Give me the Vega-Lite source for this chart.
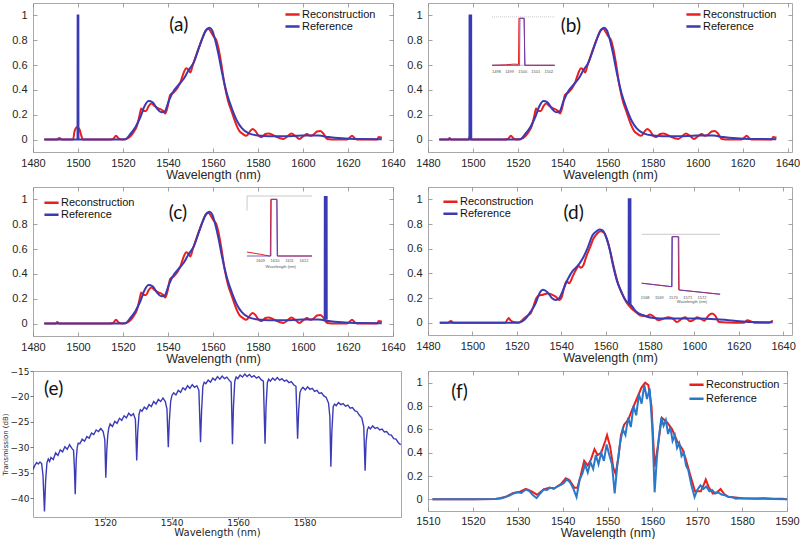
{
"$schema": "https://vega.github.io/schema/vega-lite/v6.json",
"background": "white",
"padding": {"left": 0, "top": 2, "right": 0, "bottom": 0},
"config": {
 "view": {"stroke": "#a8a8a8", "strokeWidth": 1},
 "axis": {"domain": false, "grid": false, "ticks": true, "tickSize": -4, "tickColor": "#8c8c8c", "tickWidth": 0.8, "labelFont": "Liberation Sans", "labelFontSize": 11, "labelColor": "#262626", "labelPadding": 9, "labelFlush": false, "labelOverlap": false, "titleFont": "Liberation Sans", "titleFontSize": 12.5, "titleFontWeight": "normal", "titleColor": "#262626", "titlePadding": 0},
 "axisY": {"labelPadding": 10},
 "legend": {"labelFont": "Liberation Sans", "labelFontSize": 11, "labelColor": "#111111", "symbolType": "stroke", "symbolStrokeWidth": 2.5, "symbolSize": 200, "labelOffset": 1, "padding": 0, "rowPadding": 0, "clipHeight": 12}
},
"datasets": {
 "lbl": [
  {"p":"a","x":1544.8,"y":0.923,"t":"(a)"},
  {"p":"b","x":1543.6,"y":0.915,"t":"(b)"},
  {"p":"c","x":1544.4,"y":0.887,"t":"(c)"},
  {"p":"d","x":1545.6,"y":0.892,"t":"(d)"},
  {"p":"e","x":1504.5,"y":-18.6,"t":"(e)"},
  {"p":"f","x":1517,"y":0.92,"t":"(f)"}
 ],
 "refA": [
  {"x":1485,"y":0},{"x":1500,"y":0},{"x":1515,"y":0},{"x":1521,"y":0.002},{"x":1523.3,"y":0.046},{"x":1525.5,"y":0.1},{"x":1527.7,"y":0.18},{"x":1529.6,"y":0.27},{"x":1531.4,"y":0.31},{"x":1533.2,"y":0.3},{"x":1535.1,"y":0.25},{"x":1537,"y":0.22},{"x":1538.5,"y":0.226},{"x":1540.3,"y":0.31},{"x":1542.1,"y":0.38},{"x":1544.7,"y":0.44},{"x":1547,"y":0.49},{"x":1549.2,"y":0.56},{"x":1551.4,"y":0.62},{"x":1553.6,"y":0.73},{"x":1555.6,"y":0.83},{"x":1557.3,"y":0.89},{"x":1558.4,"y":0.9},{"x":1559.6,"y":0.88},{"x":1561,"y":0.8},{"x":1562.5,"y":0.68},{"x":1564,"y":0.54},{"x":1566.2,"y":0.37},{"x":1568.4,"y":0.25},{"x":1570.7,"y":0.15},{"x":1572.9,"y":0.09},{"x":1575.9,"y":0.05},{"x":1580.3,"y":0.032},{"x":1584.7,"y":0.027},{"x":1592,"y":0.027},{"x":1599.6,"y":0.032},{"x":1607,"y":0.032},{"x":1611.4,"y":0.02},{"x":1617.3,"y":0.01},{"x":1623.3,"y":0.005},{"x":1635,"y":0.003}
 ],
 "recA": [
  {"x":1485,"y":0},{"x":1490.7,"y":0},{"x":1491.7,"y":0.013},{"x":1492.9,"y":0},{"x":1497.8,"y":0},{"x":1498.5,"y":0.07},{"x":1499.6,"y":0.1},{"x":1500.6,"y":0.085},{"x":1501.5,"y":0.03},{"x":1502.1,"y":0},{"x":1513.6,"y":0},{"x":1515.6,"y":0.005},{"x":1516.9,"y":0.03},{"x":1518,"y":0.01},{"x":1519.6,"y":0},{"x":1521,"y":0.003},{"x":1523.3,"y":0.027},{"x":1524.7,"y":0.06},{"x":1526.2,"y":0.11},{"x":1527.3,"y":0.19},{"x":1528.1,"y":0.25},{"x":1529.2,"y":0.23},{"x":1530.2,"y":0.23},{"x":1531.4,"y":0.27},{"x":1532.6,"y":0.29},{"x":1534.1,"y":0.27},{"x":1535.9,"y":0.25},{"x":1537.6,"y":0.234},{"x":1538.8,"y":0.21},{"x":1539.9,"y":0.27},{"x":1541,"y":0.36},{"x":1542.5,"y":0.38},{"x":1544,"y":0.41},{"x":1545.5,"y":0.46},{"x":1547,"y":0.54},{"x":1548.1,"y":0.575},{"x":1549.2,"y":0.56},{"x":1549.9,"y":0.54},{"x":1551,"y":0.6},{"x":1552.9,"y":0.7},{"x":1555.1,"y":0.81},{"x":1556.9,"y":0.88},{"x":1558.1,"y":0.89},{"x":1559.3,"y":0.86},{"x":1560.3,"y":0.83},{"x":1561.5,"y":0.8},{"x":1562.5,"y":0.73},{"x":1563.7,"y":0.61},{"x":1565.2,"y":0.435},{"x":1566.7,"y":0.31},{"x":1568.4,"y":0.22},{"x":1569.9,"y":0.14},{"x":1571.7,"y":0.07},{"x":1573.2,"y":0.046},{"x":1574.8,"y":0.03},{"x":1576.6,"y":0.07},{"x":1577.6,"y":0.086},{"x":1578.8,"y":0.07},{"x":1580.3,"y":0.03},{"x":1581.5,"y":0.02},{"x":1583.3,"y":0.045},{"x":1584.7,"y":0.05},{"x":1586.5,"y":0.038},{"x":1588.4,"y":0.02},{"x":1591.4,"y":0.005},{"x":1593.3,"y":0.03},{"x":1594.8,"y":0.05},{"x":1596.6,"y":0.03},{"x":1598.4,"y":0.005},{"x":1600.3,"y":0.03},{"x":1601.8,"y":0.045},{"x":1603.3,"y":0.03},{"x":1604.7,"y":0.04},{"x":1606.2,"y":0.065},{"x":1607.7,"y":0.07},{"x":1609.2,"y":0.045},{"x":1610.7,"y":0.005},{"x":1614.4,"y":0},{"x":1619.6,"y":0},{"x":1621,"y":0.02},{"x":1621.8,"y":0.03},{"x":1623,"y":0.01},{"x":1624,"y":0},{"x":1632.9,"y":0},{"x":1633.6,"y":0.02},{"x":1635.1,"y":0.015}
 ],
 "lowB": [{"x":1485,"y":0},{"x":1489,"y":0},{"x":1489.6,"y":0.012},{"x":1490.3,"y":0},{"x":1498,"y":0},{"x":1498.5,"y":0.02},{"x":1498.9,"y":0.03},{"x":1499.2,"y":0},{"x":1513.6,"y":0}],
 "lowC": [{"x":1485,"y":0},{"x":1490,"y":0},{"x":1490.8,"y":0.012},{"x":1491.6,"y":0},{"x":1513.6,"y":0}],
 "spikeA": [{"x":1499.8,"y":0},{"x":1499.85,"y":1},{"x":1500.15,"y":1},{"x":1500.2,"y":0}],
 "spikeB": [{"x":1498.45,"y":0},{"x":1498.5,"y":1},{"x":1499.2,"y":1},{"x":1499.25,"y":0}],
 "spikeC": [{"x":1609.65,"y":0.03},{"x":1609.7,"y":1.02},{"x":1610.5,"y":1.02},{"x":1610.55,"y":0.03}],
 "spikeD": [{"x":1570.4,"y":0.16},{"x":1570.45,"y":1},{"x":1571.2,"y":1},{"x":1571.25,"y":0.14}],
 "refD": [
  {"x":1485.3,"y":0},{"x":1500,"y":0},{"x":1515,"y":0},{"x":1521,"y":0.002},{"x":1524,"y":0.033},{"x":1526.2,"y":0.088},{"x":1528.5,"y":0.157},{"x":1530.3,"y":0.24},{"x":1531.8,"y":0.266},{"x":1533.8,"y":0.247},{"x":1535.8,"y":0.2},{"x":1537.6,"y":0.184},{"x":1539.1,"y":0.198},{"x":1540.9,"y":0.266},{"x":1542.9,"y":0.35},{"x":1545.2,"y":0.42},{"x":1547.4,"y":0.46},{"x":1549.7,"y":0.52},{"x":1552,"y":0.61},{"x":1554.2,"y":0.71},{"x":1555.8,"y":0.74},{"x":1557.3,"y":0.755},{"x":1558.8,"y":0.747},{"x":1560.3,"y":0.69},{"x":1561.8,"y":0.6},{"x":1563.3,"y":0.47},{"x":1565.2,"y":0.335},{"x":1567.1,"y":0.25},{"x":1569.1,"y":0.18},{"x":1571.7,"y":0.137},{"x":1573.9,"y":0.088},{"x":1577,"y":0.06},{"x":1581.5,"y":0.038},{"x":1587.6,"y":0.033},{"x":1595.2,"y":0.033},{"x":1602.7,"y":0.033},{"x":1610.3,"y":0.027},{"x":1617.9,"y":0.016},{"x":1625.5,"y":0.005},{"x":1635.3,"y":0.003}
 ],
 "recD": [
  {"x":1485.3,"y":0},{"x":1489,"y":0},{"x":1490.3,"y":0.014},{"x":1491.4,"y":0},{"x":1514.8,"y":0},{"x":1516.4,"y":0.038},{"x":1517.1,"y":0.02},{"x":1518.6,"y":0.005},{"x":1520.9,"y":0},{"x":1523.2,"y":0.033},{"x":1524.7,"y":0.055},{"x":1526.2,"y":0.074},{"x":1527.7,"y":0.143},{"x":1528.8,"y":0.198},{"x":1530,"y":0.22},{"x":1531.5,"y":0.225},{"x":1533.8,"y":0.236},{"x":1536.1,"y":0.225},{"x":1537.6,"y":0.21},{"x":1539.1,"y":0.184},{"x":1540.3,"y":0.21},{"x":1541.4,"y":0.29},{"x":1542.4,"y":0.335},{"x":1543.6,"y":0.32},{"x":1545.2,"y":0.376},{"x":1546.7,"y":0.43},{"x":1547.9,"y":0.46},{"x":1548.9,"y":0.445},{"x":1550,"y":0.465},{"x":1551.2,"y":0.53},{"x":1553,"y":0.61},{"x":1554.5,"y":0.68},{"x":1556.1,"y":0.72},{"x":1557.6,"y":0.742},{"x":1559.1,"y":0.733},{"x":1560.6,"y":0.68},{"x":1562.1,"y":0.58},{"x":1563.6,"y":0.46},{"x":1565.6,"y":0.32},{"x":1567.6,"y":0.23},{"x":1569.4,"y":0.165},{"x":1571.7,"y":0.115},{"x":1573.9,"y":0.082},{"x":1576.2,"y":0.055},{"x":1578.5,"y":0.052},{"x":1580,"y":0.066},{"x":1581.8,"y":0.047},{"x":1583.8,"y":0.019},{"x":1586.1,"y":0.033},{"x":1588.3,"y":0.044},{"x":1590.3,"y":0.033},{"x":1592.1,"y":0.005},{"x":1594.4,"y":0.033},{"x":1595.9,"y":0.044},{"x":1597.9,"y":0.011},{"x":1599.7,"y":0.022},{"x":1601.2,"y":0.044},{"x":1602.7,"y":0.033},{"x":1604.5,"y":0.016},{"x":1606.5,"y":0.06},{"x":1608,"y":0.074},{"x":1609.5,"y":0.055},{"x":1611.1,"y":0.005},{"x":1617.9,"y":0},{"x":1622.4,"y":0},{"x":1623.9,"y":0.019},{"x":1625.5,"y":0.01},{"x":1627,"y":0},{"x":1633.8,"y":0},{"x":1635.3,"y":0.019}
 ],
 "insB": [
  {"s":"top","x":1497.66,"y":1.03},{"s":"top","x":1502.44,"y":1.03},
  {"s":"ax","x":1497.66,"y":0},{"s":"ax","x":1502.44,"y":0},
  {"s":"rec","x":1497.66,"y":0},{"s":"rec","x":1498.7,"y":0.01},{"s":"rec","x":1499.3,"y":0.025},{"s":"rec","x":1499.68,"y":0.02},{"s":"rec","x":1499.71,"y":1},{"s":"rec","x":1500.1,"y":1},{"s":"rec","x":1500.18,"y":0},{"s":"rec","x":1502.44,"y":0},
  {"s":"ref","x":1497.66,"y":0},{"s":"ref","x":1499.76,"y":0},{"s":"ref","x":1499.79,"y":1},{"s":"ref","x":1500.12,"y":1},{"s":"ref","x":1500.15,"y":0},{"s":"ref","x":1502.44,"y":0},
  {"s":"lbl","x":1498,"y":-0.14,"t":"1498"},{"s":"lbl","x":1499,"y":-0.14,"t":"1499"},{"s":"lbl","x":1500,"y":-0.14,"t":"1500"},{"s":"lbl","x":1501,"y":-0.14,"t":"1501"},{"s":"lbl","x":1502,"y":-0.14,"t":"1502"}
 ],
 "insC": [
  {"s":"top","x":1608.07,"y":1.058},{"s":"top","x":1612.55,"y":1.058},
  {"s":"side","x":1608.07,"y":0.8},{"s":"side","x":1608.08,"y":1.058},
  {"s":"rec","x":1608.07,"y":0.07},{"s":"rec","x":1609,"y":0.03},{"s":"rec","x":1609.6,"y":0.0},{"s":"rec","x":1609.68,"y":0.0},{"s":"rec","x":1609.71,"y":1.0},{"s":"rec","x":1610.14,"y":1.0},{"s":"rec","x":1610.18,"y":0},{"s":"rec","x":1612.55,"y":0},
  {"s":"ref","x":1608.07,"y":0},{"s":"ref","x":1609.72,"y":0},{"s":"ref","x":1609.75,"y":1},{"s":"ref","x":1610.12,"y":1},{"s":"ref","x":1610.15,"y":0},{"s":"ref","x":1612.55,"y":0},
  {"s":"lbl","x":1609,"y":-0.08,"t":"1609"},{"s":"lbl","x":1610,"y":-0.08,"t":"1610"},{"s":"lbl","x":1611,"y":-0.08,"t":"1611"},{"s":"lbl","x":1612,"y":-0.08,"t":"1612"},
  {"s":"lbl","x":1610.4,"y":-0.19,"t":"Wavelength (nm)"}
 ],
 "insD": [
  {"s":"top","x":1567.76,"y":1.044},{"s":"top","x":1573.28,"y":1.044},
  {"s":"rec","x":1567.76,"y":0.145},{"s":"rec","x":1569.86,"y":0.08},{"s":"rec","x":1569.88,"y":1},{"s":"rec","x":1570.33,"y":1},{"s":"rec","x":1570.36,"y":0.02},{"s":"rec","x":1573.28,"y":-0.058},
  {"s":"ref","x":1567.76,"y":0.142},{"s":"ref","x":1569.9,"y":0.079},{"s":"ref","x":1569.93,"y":1},{"s":"ref","x":1570.37,"y":1},{"s":"ref","x":1570.4,"y":0.018},{"s":"ref","x":1573.28,"y":-0.061},
  {"s":"lbl","x":1568,"y":-0.123,"t":"1568"},{"s":"lbl","x":1569,"y":-0.123,"t":"1569"},{"s":"lbl","x":1570,"y":-0.123,"t":"1570"},{"s":"lbl","x":1571,"y":-0.123,"t":"1571"},{"s":"lbl","x":1572,"y":-0.123,"t":"1572"},
  {"s":"lbl","x":1571.3,"y":-0.203,"t":"Wavelength (nm)"}
 ],
 "trans": [
  {"x":1498.0,"y":-33.4},{"x":1498.4,"y":-34.2},{"x":1498.9,"y":-33.5},{"x":1499.4,"y":-33.0},{"x":1499.9,"y":-33.3},{"x":1500.4,"y":-32.9},{"x":1500.9,"y":-33.2},{"x":1501.3,"y":-35.5},{"x":1501.75,"y":-42.6},{"x":1502.1,"y":-36.5},{"x":1502.5,"y":-33.0},{"x":1502.9,"y":-32.3},{"x":1503.3,"y":-32.8},{"x":1503.7,"y":-32.0},{"x":1504.4,"y":-32.4},{"x":1505.1,"y":-31.1},{"x":1505.8,"y":-31.6},{"x":1506.5,"y":-30.5},{"x":1507.2,"y":-30.9},{"x":1507.9,"y":-29.9},{"x":1508.6,"y":-30.4},{"x":1509.3,"y":-29.5},{"x":1510.0,"y":-30.2},{"x":1510.5,"y":-30.6},{"x":1510.75,"y":-34.0},{"x":1511.0,"y":-39.2},{"x":1511.3,"y":-32.5},{"x":1511.6,"y":-30.0},{"x":1511.9,"y":-29.2},{"x":1512.4,"y":-29.3},{"x":1513.1,"y":-28.4},{"x":1513.8,"y":-28.8},{"x":1514.5,"y":-27.9},{"x":1515.2,"y":-28.2},{"x":1515.9,"y":-27.2},{"x":1516.6,"y":-27.5},{"x":1517.3,"y":-26.6},{"x":1518.0,"y":-26.9},{"x":1518.7,"y":-26.3},{"x":1519.4,"y":-26.9},{"x":1519.9,"y":-28.5},{"x":1520.2,"y":-36.0},{"x":1520.5,"y":-30.5},{"x":1520.8,"y":-27.5},{"x":1521.1,"y":-26.2},{"x":1521.5,"y":-25.4},{"x":1522.2,"y":-25.9},{"x":1522.9,"y":-24.9},{"x":1523.6,"y":-25.3},{"x":1524.3,"y":-24.3},{"x":1525.0,"y":-24.7},{"x":1525.7,"y":-23.8},{"x":1526.4,"y":-24.2},{"x":1527.1,"y":-23.3},{"x":1527.8,"y":-23.8},{"x":1528.5,"y":-23.4},{"x":1529.1,"y":-24.5},{"x":1529.5,"y":-32.6},{"x":1529.8,"y":-27.0},{"x":1530.2,"y":-23.5},{"x":1530.6,"y":-22.6},{"x":1531.1,"y":-22.9},{"x":1531.8,"y":-22.1},{"x":1532.5,"y":-22.5},{"x":1533.2,"y":-21.6},{"x":1533.9,"y":-22.0},{"x":1534.6,"y":-21.0},{"x":1535.3,"y":-21.5},{"x":1536.0,"y":-20.6},{"x":1536.7,"y":-21.0},{"x":1537.4,"y":-20.3},{"x":1538.1,"y":-21.0},{"x":1538.6,"y":-22.5},{"x":1539.0,"y":-30.0},{"x":1539.3,"y":-25.0},{"x":1539.7,"y":-21.0},{"x":1540.1,"y":-19.8},{"x":1540.6,"y":-19.3},{"x":1541.3,"y":-19.7},{"x":1542.0,"y":-18.8},{"x":1542.7,"y":-19.2},{"x":1543.4,"y":-18.3},{"x":1544.1,"y":-18.7},{"x":1544.8,"y":-17.9},{"x":1545.5,"y":-18.4},{"x":1546.2,"y":-17.7},{"x":1546.9,"y":-18.2},{"x":1547.6,"y":-17.9},{"x":1548.2,"y":-18.8},{"x":1548.7,"y":-29.0},{"x":1549.0,"y":-23.0},{"x":1549.4,"y":-18.0},{"x":1549.8,"y":-17.2},{"x":1550.3,"y":-17.5},{"x":1551.0,"y":-16.8},{"x":1551.7,"y":-17.2},{"x":1552.4,"y":-16.4},{"x":1553.1,"y":-16.8},{"x":1553.8,"y":-16.1},{"x":1554.5,"y":-16.6},{"x":1555.2,"y":-16.0},{"x":1555.9,"y":-16.5},{"x":1556.6,"y":-16.2},{"x":1557.3,"y":-16.8},{"x":1557.9,"y":-17.2},{"x":1558.3,"y":-29.4},{"x":1558.6,"y":-22.0},{"x":1559.0,"y":-17.0},{"x":1559.4,"y":-16.2},{"x":1559.9,"y":-16.5},{"x":1560.6,"y":-15.8},{"x":1561.3,"y":-16.2},{"x":1562.0,"y":-15.6},{"x":1562.7,"y":-16.1},{"x":1563.4,"y":-15.7},{"x":1564.1,"y":-16.2},{"x":1564.8,"y":-15.9},{"x":1565.5,"y":-16.4},{"x":1566.2,"y":-16.1},{"x":1566.9,"y":-16.7},{"x":1567.6,"y":-17.0},{"x":1568.1,"y":-29.3},{"x":1568.4,"y":-22.0},{"x":1568.8,"y":-17.3},{"x":1569.2,"y":-16.6},{"x":1569.7,"y":-17.0},{"x":1570.4,"y":-16.4},{"x":1571.1,"y":-16.8},{"x":1571.8,"y":-16.3},{"x":1572.5,"y":-16.8},{"x":1573.2,"y":-16.5},{"x":1573.9,"y":-17.0},{"x":1574.6,"y":-16.8},{"x":1575.3,"y":-17.3},{"x":1576.0,"y":-17.1},{"x":1576.7,"y":-17.7},{"x":1577.4,"y":-18.0},{"x":1577.9,"y":-28.3},{"x":1578.2,"y":-23.0},{"x":1578.6,"y":-19.2},{"x":1579.0,"y":-18.6},{"x":1579.5,"y":-18.2},{"x":1580.2,"y":-18.7},{"x":1580.9,"y":-18.1},{"x":1581.6,"y":-18.6},{"x":1582.3,"y":-18.4},{"x":1583.0,"y":-19.0},{"x":1583.7,"y":-18.8},{"x":1584.4,"y":-19.4},{"x":1585.1,"y":-19.3},{"x":1585.8,"y":-19.9},{"x":1586.5,"y":-20.2},{"x":1587.2,"y":-21.3},{"x":1587.6,"y":-24.0},{"x":1587.9,"y":-33.8},{"x":1588.2,"y":-27.0},{"x":1588.6,"y":-22.0},{"x":1589.0,"y":-21.5},{"x":1589.5,"y":-21.8},{"x":1590.2,"y":-21.2},{"x":1590.9,"y":-21.6},{"x":1591.6,"y":-21.4},{"x":1592.3,"y":-21.9},{"x":1593.0,"y":-21.7},{"x":1593.7,"y":-22.3},{"x":1594.4,"y":-22.2},{"x":1595.1,"y":-22.8},{"x":1595.8,"y":-23.0},{"x":1596.5,"y":-23.7},{"x":1597.2,"y":-24.2},{"x":1597.8,"y":-26.0},{"x":1598.2,"y":-34.6},{"x":1598.5,"y":-29.0},{"x":1598.9,"y":-26.5},{"x":1599.3,"y":-26.0},{"x":1599.8,"y":-26.4},{"x":1600.5,"y":-25.8},{"x":1601.2,"y":-26.3},{"x":1601.9,"y":-26.1},{"x":1602.6,"y":-26.6},{"x":1603.3,"y":-26.4},{"x":1604.0,"y":-27.0},{"x":1604.7,"y":-26.9},{"x":1605.4,"y":-27.5},{"x":1606.1,"y":-27.6},{"x":1606.8,"y":-28.3},{"x":1607.5,"y":-28.4},{"x":1608.2,"y":-29.1},{"x":1608.9,"y":-29.5}
 ],
 "fRec": [
  {"x":1511,"y":0},{"x":1520,"y":0},{"x":1525,"y":0.003},{"x":1526,"y":0.01},{"x":1527.5,"y":0.025},{"x":1529,"y":0.055},{"x":1530.5,"y":0.065},{"x":1531.8,"y":0.09},{"x":1533,"y":0.07},{"x":1534.3,"y":0.04},{"x":1535.8,"y":0.085},{"x":1537,"y":0.1},{"x":1538.2,"y":0.095},{"x":1539.6,"y":0.13},{"x":1540.7,"y":0.18},{"x":1541.5,"y":0.165},{"x":1542.6,"y":0.1},{"x":1543.3,"y":0.1},{"x":1544,"y":0.2},{"x":1544.8,"y":0.33},{"x":1545.6,"y":0.29},{"x":1546.3,"y":0.34},{"x":1547.1,"y":0.43},{"x":1547.8,"y":0.38},{"x":1548.6,"y":0.4},{"x":1549.5,"y":0.5},{"x":1549.9,"y":0.55},{"x":1550.6,"y":0.45},{"x":1551.3,"y":0.27},{"x":1551.8,"y":0.22},{"x":1552.4,"y":0.35},{"x":1553,"y":0.55},{"x":1553.7,"y":0.64},{"x":1554.6,"y":0.68},{"x":1555.4,"y":0.76},{"x":1556.5,"y":0.86},{"x":1557.6,"y":0.96},{"x":1558.4,"y":1.0},{"x":1559.1,"y":0.98},{"x":1559.8,"y":0.8},{"x":1560.5,"y":0.28},{"x":1561.2,"y":0.45},{"x":1562.1,"y":0.7},{"x":1563.3,"y":0.66},{"x":1564.4,"y":0.6},{"x":1565.5,"y":0.5},{"x":1566.7,"y":0.43},{"x":1567.4,"y":0.35},{"x":1568.5,"y":0.2},{"x":1569.5,"y":0.07},{"x":1570.8,"y":0.07},{"x":1571.5,"y":0.13},{"x":1571.9,"y":0.17},{"x":1572.6,"y":0.1},{"x":1573.5,"y":0.05},{"x":1574.4,"y":0.06},{"x":1575.2,"y":0.088},{"x":1576,"y":0.045},{"x":1577,"y":0.02},{"x":1578.5,"y":0.015},{"x":1580,"y":0.01},{"x":1583,"y":0.008},{"x":1585,"y":0.01},{"x":1587,"y":0.005},{"x":1589,"y":0.005},{"x":1590,"y":0}
 ],
 "fRef": [
  {"x":1511,"y":0},{"x":1520,"y":0},{"x":1525,"y":0.003},{"x":1526.5,"y":0.01},{"x":1528,"y":0.03},{"x":1529,"y":0.05},{"x":1530,"y":0.06},{"x":1530.8,"y":0.055},{"x":1531.8,"y":0.085},{"x":1532.6,"y":0.07},{"x":1533.3,"y":0.04},{"x":1534.2,"y":0.01},{"x":1535,"y":0.05},{"x":1535.8,"y":0.085},{"x":1536.5,"y":0.08},{"x":1537.2,"y":0.1},{"x":1538,"y":0.09},{"x":1538.8,"y":0.11},{"x":1539.6,"y":0.125},{"x":1540.3,"y":0.14},{"x":1540.9,"y":0.17},{"x":1541.6,"y":0.15},{"x":1542.3,"y":0.1},{"x":1543.1,"y":0.02},{"x":1543.8,"y":0.17},{"x":1544.4,"y":0.22},{"x":1545,"y":0.3},{"x":1545.6,"y":0.23},{"x":1546.2,"y":0.32},{"x":1546.8,"y":0.26},{"x":1547.4,"y":0.38},{"x":1548,"y":0.3},{"x":1548.6,"y":0.4},{"x":1549.2,"y":0.33},{"x":1549.8,"y":0.47},{"x":1550.4,"y":0.38},{"x":1551,"y":0.3},{"x":1551.6,"y":0.05},{"x":1552.2,"y":0.3},{"x":1552.8,"y":0.48},{"x":1553.4,"y":0.6},{"x":1554,"y":0.55},{"x":1554.6,"y":0.7},{"x":1555.2,"y":0.62},{"x":1555.8,"y":0.8},{"x":1556.4,"y":0.72},{"x":1557,"y":0.9},{"x":1557.6,"y":0.82},{"x":1558.2,"y":0.98},{"x":1558.8,"y":0.86},{"x":1559.4,"y":0.95},{"x":1560,"y":0.6},{"x":1560.5,"y":0.06},{"x":1561,"y":0.35},{"x":1561.5,"y":0.55},{"x":1562,"y":0.7},{"x":1562.5,"y":0.63},{"x":1563,"y":0.68},{"x":1563.5,"y":0.56},{"x":1564,"y":0.62},{"x":1564.5,"y":0.5},{"x":1565,"y":0.55},{"x":1565.5,"y":0.44},{"x":1566,"y":0.48},{"x":1566.5,"y":0.37},{"x":1567,"y":0.4},{"x":1567.5,"y":0.29},{"x":1568,"y":0.25},{"x":1568.7,"y":0.12},{"x":1569.4,"y":0.02},{"x":1570,"y":0.08},{"x":1570.7,"y":0.12},{"x":1571.4,"y":0.09},{"x":1572,"y":0.11},{"x":1572.7,"y":0.07},{"x":1573.3,"y":0.08},{"x":1574,"y":0.05},{"x":1574.7,"y":0.06},{"x":1575.4,"y":0.04},{"x":1576.2,"y":0.035},{"x":1577,"y":0.02},{"x":1577.8,"y":0.02},{"x":1578.6,"y":0.005},{"x":1579.5,"y":0.01},{"x":1581,"y":0.008},{"x":1583,"y":0.005},{"x":1585,"y":0.005},{"x":1587,"y":0.003},{"x":1590,"y":0}
 ]
},
"columns": 2,
"align": "none",
"bounds": "flush",
"spacing": {"row": 35, "column": 27},
"resolve": {"scale": {"color": "independent"}},
"concat": [
 {
  "width": 360, "height": 149,
  "resolve": {"scale": {"x": "independent", "y": "independent"}},
  "layer": [
   {
    "encoding": {
     "x": {"field": "x", "type": "quantitative", "scale": {"domain": [1480, 1640], "nice": false, "zero": false}, "axis": {"values": [1480,1500,1520,1540,1560,1580,1600,1620,1640], "format": "d", "title": "Wavelength (nm)"}},
     "y": {"field": "y", "type": "quantitative", "scale": {"domain": [-0.1, 1.1], "nice": false, "zero": false}, "axis": {"values": [0,0.2,0.4,0.6,0.8,1], "format": ".1~f", "title": null}}
    },
    "layer": [
     {"data": {"name": "recA"}, "mark": {"type": "line", "strokeWidth": 2, "interpolate": "monotone", "clip": true}, "encoding": {"color": {"datum": "Reconstruction", "scale": {"domain": ["Reconstruction", "Reference"], "range": ["#e8201e", "#3a3ab4"]}, "legend": {"title": null, "orient": "none", "legendX": 251, "legendY": 5.5}}}},
     {"data": {"name": "refA"}, "mark": {"type": "line", "strokeWidth": 2, "interpolate": "monotone", "clip": true}, "encoding": {"color": {"datum": "Reference"}}},
     {"data": {"name": "spikeA"}, "mark": {"type": "line", "strokeWidth": 2, "clip": true}, "encoding": {"color": {"datum": "Reference"}}},
     {"data": {"name": "lbl"}, "transform": [{"filter": "datum.p == 'a'"}], "mark": {"type": "text", "font": "Lato", "fontSize": 19, "color": "#111111"}, "encoding": {"text": {"field": "t"}}}
    ]
   },
   {
    "data": {"name": "lbl"}, "transform": [{"filter": "datum.p == 'a'"}], "mark": {"type": "point", "opacity": 0},
    "encoding": {
     "x": {"field": "x", "type": "quantitative", "scale": {"domain": [1480, 1640], "nice": false, "zero": false}, "axis": {"orient": "top", "values": [1480,1500,1520,1540,1560,1580,1600,1620,1640], "labels": false, "title": null}},
     "y": {"field": "y", "type": "quantitative", "scale": {"domain": [-0.1, 1.1], "nice": false, "zero": false}, "axis": {"orient": "right", "values": [0,0.2,0.4,0.6,0.8,1], "labels": false, "title": null}}
    }
   }
  ]
 },
 {
  "width": 364, "height": 149,
  "resolve": {"scale": {"x": "independent", "y": "independent"}},
  "layer": [
   {
    "encoding": {
     "x": {"field": "x", "type": "quantitative", "scale": {"domain": [1480, 1642], "nice": false, "zero": false}, "axis": {"values": [1480,1500,1520,1540,1560,1580,1600,1620,1640], "format": "d", "title": "Wavelength (nm)"}},
     "y": {"field": "y", "type": "quantitative", "scale": {"domain": [-0.1, 1.1], "nice": false, "zero": false}, "axis": {"values": [0,0.2,0.4,0.6,0.8,1], "format": ".1~f", "title": null}}
    },
    "layer": [
     {"data": {"name": "recA"}, "transform": [{"filter": "datum.x >= 1513"}], "mark": {"type": "line", "strokeWidth": 2, "interpolate": "monotone", "clip": true}, "encoding": {"color": {"datum": "Reconstruction", "scale": {"domain": ["Reconstruction", "Reference"], "range": ["#e8201e", "#3a3ab4"]}, "legend": {"title": null, "orient": "none", "legendX": 257, "legendY": 5.5}}}},
     {"data": {"name": "lowB"}, "mark": {"type": "line", "strokeWidth": 2, "interpolate": "monotone", "clip": true}, "encoding": {"color": {"datum": "Reconstruction"}}},
     {"data": {"name": "refA"}, "mark": {"type": "line", "strokeWidth": 2, "interpolate": "monotone", "clip": true}, "encoding": {"color": {"datum": "Reference"}}},
     {"data": {"name": "spikeB"}, "mark": {"type": "line", "strokeWidth": 2, "clip": true}, "encoding": {"color": {"datum": "Reference"}}},
     {"data": {"name": "lbl"}, "transform": [{"filter": "datum.p == 'b'"}], "mark": {"type": "text", "font": "Lato", "fontSize": 19, "color": "#111111"}, "encoding": {"text": {"field": "t"}}}
    ]
   },
   {
    "data": {"name": "insB"},
    "encoding": {
     "x": {"field": "x", "type": "quantitative", "scale": {"domain": [1492.77, 1520.56], "nice": false, "zero": false}, "axis": null},
     "y": {"field": "y", "type": "quantitative", "scale": {"domain": [-1.845, 1.3255], "nice": false, "zero": false}, "axis": null}
    },
    "layer": [
     {"transform": [{"filter": "datum.s == 'top'"}], "mark": {"type": "line", "color": "#bbbbbb", "strokeWidth": 0.8, "strokeDash": [1, 1]}},
     {"transform": [{"filter": "datum.s == 'ax'"}], "mark": {"type": "line", "color": "#999999", "strokeWidth": 0.6}},
     {"transform": [{"filter": "datum.s == 'rec'"}], "mark": {"type": "line", "color": "#e8201e", "strokeWidth": 1}},
     {"transform": [{"filter": "datum.s == 'ref'"}], "mark": {"type": "line", "color": "#5b3fbf", "strokeWidth": 1, "opacity": 0.85}},
     {"transform": [{"filter": "datum.s == 'lbl'"}], "mark": {"type": "text", "fontSize": 4, "color": "#555555", "font": "Liberation Sans"}, "encoding": {"text": {"field": "t"}}}
    ]
   },
   {
    "data": {"name": "lbl"}, "transform": [{"filter": "datum.p == 'b'"}], "mark": {"type": "point", "opacity": 0},
    "encoding": {
     "x": {"field": "x", "type": "quantitative", "scale": {"domain": [1480, 1642], "nice": false, "zero": false}, "axis": {"orient": "top", "values": [1480,1500,1520,1540,1560,1580,1600,1620,1640], "labels": false, "title": null}},
     "y": {"field": "y", "type": "quantitative", "scale": {"domain": [-0.1, 1.1], "nice": false, "zero": false}, "axis": {"orient": "right", "values": [0,0.2,0.4,0.6,0.8,1], "labels": false, "title": null}}
    }
   }
  ]
 },
 {
  "width": 360, "height": 149,
  "resolve": {"scale": {"x": "independent", "y": "independent"}},
  "layer": [
   {
    "encoding": {
     "x": {"field": "x", "type": "quantitative", "scale": {"domain": [1480, 1640], "nice": false, "zero": false}, "axis": {"values": [1480,1500,1520,1540,1560,1580,1600,1620,1640], "format": "d", "title": "Wavelength (nm)"}},
     "y": {"field": "y", "type": "quantitative", "scale": {"domain": [-0.1, 1.1], "nice": false, "zero": false}, "axis": {"values": [0,0.2,0.4,0.6,0.8,1], "format": ".1~f", "title": null}}
    },
    "layer": [
     {"data": {"name": "recA"}, "transform": [{"filter": "datum.x >= 1513"}], "mark": {"type": "line", "strokeWidth": 2, "interpolate": "monotone", "clip": true}, "encoding": {"color": {"datum": "Reconstruction", "scale": {"domain": ["Reconstruction", "Reference"], "range": ["#e8201e", "#3a3ab4"]}, "legend": {"title": null, "orient": "none", "legendX": 10, "legendY": 9.7}}}},
     {"data": {"name": "lowC"}, "mark": {"type": "line", "strokeWidth": 2, "interpolate": "monotone", "clip": true}, "encoding": {"color": {"datum": "Reconstruction"}}},
     {"data": {"name": "refA"}, "mark": {"type": "line", "strokeWidth": 2, "interpolate": "monotone", "clip": true}, "encoding": {"color": {"datum": "Reference"}}},
     {"data": {"name": "spikeC"}, "mark": {"type": "line", "strokeWidth": 2, "clip": true}, "encoding": {"color": {"datum": "Reference"}}},
     {"data": {"name": "lbl"}, "transform": [{"filter": "datum.p == 'c'"}], "mark": {"type": "text", "font": "Lato", "fontSize": 19, "color": "#111111"}, "encoding": {"text": {"field": "t"}}}
    ]
   },
   {
    "data": {"name": "insC"},
    "encoding": {
     "x": {"field": "x", "type": "quantitative", "scale": {"domain": [1593.31, 1618.14], "nice": false, "zero": false}, "axis": null},
     "y": {"field": "y", "type": "quantitative", "scale": {"domain": [-1.411, 1.217], "nice": false, "zero": false}, "axis": null}
    },
    "layer": [
     {"transform": [{"filter": "datum.s == 'top'"}], "mark": {"type": "line", "color": "#bbbbbb", "strokeWidth": 0.8}},
     {"transform": [{"filter": "datum.s == 'side'"}], "mark": {"type": "line", "color": "#bbbbbb", "strokeWidth": 0.8}},
     {"transform": [{"filter": "datum.s == 'rec'"}], "mark": {"type": "line", "color": "#e8201e", "strokeWidth": 1}},
     {"transform": [{"filter": "datum.s == 'ref'"}], "mark": {"type": "line", "color": "#5b3fbf", "strokeWidth": 1, "opacity": 0.85}},
     {"transform": [{"filter": "datum.s == 'lbl'"}], "mark": {"type": "text", "fontSize": 4, "color": "#555555", "font": "Liberation Sans"}, "encoding": {"text": {"field": "t"}}}
    ]
   },
   {
    "data": {"name": "lbl"}, "transform": [{"filter": "datum.p == 'c'"}], "mark": {"type": "point", "opacity": 0},
    "encoding": {
     "x": {"field": "x", "type": "quantitative", "scale": {"domain": [1480, 1640], "nice": false, "zero": false}, "axis": {"orient": "top", "values": [1480,1500,1520,1540,1560,1580,1600,1620,1640], "labels": false, "title": null}},
     "y": {"field": "y", "type": "quantitative", "scale": {"domain": [-0.1, 1.1], "nice": false, "zero": false}, "axis": {"orient": "right", "values": [0,0.2,0.4,0.6,0.8,1], "labels": false, "title": null}}
    }
   }
  ]
 },
 {
  "width": 364, "height": 148,
  "resolve": {"scale": {"x": "independent", "y": "independent"}},
  "layer": [
   {
    "encoding": {
     "x": {"field": "x", "type": "quantitative", "scale": {"domain": [1480, 1644], "nice": false, "zero": false}, "axis": {"values": [1480,1500,1520,1540,1560,1580,1600,1620,1640], "format": "d", "title": "Wavelength (nm)"}},
     "y": {"field": "y", "type": "quantitative", "scale": {"domain": [-0.1, 1.1], "nice": false, "zero": false}, "axis": {"values": [0,0.2,0.4,0.6,0.8,1], "format": ".1~f", "title": null}}
    },
    "layer": [
     {"data": {"name": "recD"}, "mark": {"type": "line", "strokeWidth": 2, "interpolate": "monotone", "clip": true}, "encoding": {"color": {"datum": "Reconstruction", "scale": {"domain": ["Reconstruction", "Reference"], "range": ["#e8201e", "#3a3ab4"]}, "legend": {"title": null, "orient": "none", "legendX": 14, "legendY": 8.7}}}},
     {"data": {"name": "refD"}, "mark": {"type": "line", "strokeWidth": 2, "interpolate": "monotone", "clip": true}, "encoding": {"color": {"datum": "Reference"}}},
     {"data": {"name": "spikeD"}, "mark": {"type": "line", "strokeWidth": 2, "clip": true}, "encoding": {"color": {"datum": "Reference"}}},
     {"data": {"name": "lbl"}, "transform": [{"filter": "datum.p == 'd'"}], "mark": {"type": "text", "font": "Lato", "fontSize": 19, "color": "#111111"}, "encoding": {"text": {"field": "t"}}}
    ]
   },
   {
    "data": {"name": "insD"},
    "encoding": {
     "x": {"field": "x", "type": "quantitative", "scale": {"domain": [1552.71, 1578.34], "nice": false, "zero": false}, "axis": null},
     "y": {"field": "y", "type": "quantitative", "scale": {"domain": [-0.81, 1.915], "nice": false, "zero": false}, "axis": null}
    },
    "layer": [
     {"transform": [{"filter": "datum.s == 'top'"}], "mark": {"type": "line", "color": "#bbbbbb", "strokeWidth": 0.8}},
     {"transform": [{"filter": "datum.s == 'rec'"}], "mark": {"type": "line", "color": "#e8201e", "strokeWidth": 1}},
     {"transform": [{"filter": "datum.s == 'ref'"}], "mark": {"type": "line", "color": "#5b3fbf", "strokeWidth": 1, "opacity": 0.85}},
     {"transform": [{"filter": "datum.s == 'lbl'"}], "mark": {"type": "text", "fontSize": 4, "color": "#555555", "font": "Liberation Sans"}, "encoding": {"text": {"field": "t"}}}
    ]
   },
   {
    "data": {"name": "lbl"}, "transform": [{"filter": "datum.p == 'd'"}], "mark": {"type": "point", "opacity": 0},
    "encoding": {
     "x": {"field": "x", "type": "quantitative", "scale": {"domain": [1480, 1644], "nice": false, "zero": false}, "axis": {"orient": "top", "values": [1480,1500,1520,1540,1560,1580,1600,1620,1640], "labels": false, "title": null}},
     "y": {"field": "y", "type": "quantitative", "scale": {"domain": [-0.1, 1.1], "nice": false, "zero": false}, "axis": {"orient": "right", "values": [0,0.2,0.4,0.6,0.8,1], "labels": false, "title": null}}
    }
   }
  ]
 },
 {
  "width": 368, "height": 146,
  "encoding": {
   "x": {"field": "x", "type": "quantitative", "scale": {"domain": [1498.3, 1609], "nice": false, "zero": false}, "axis": {"values": [1520, 1540, 1560, 1580], "format": "d", "title": "Wavelength (nm)", "tickSize": 2, "labelPadding": -1, "labelFont": "DejaVu Sans", "labelFontSize": 9, "titleFont": "DejaVu Sans", "titleFontSize": 10, "titlePadding": 0, "tickColor": "#555555"}},
   "y": {"field": "y", "type": "quantitative", "scale": {"domain": [-43.7, -15], "nice": false, "zero": false}, "axis": {"values": [-40, -35, -30, -25, -20, -15], "format": "d", "title": "Transmission (dB)", "tickSize": 3, "labelPadding": 1, "labelFont": "DejaVu Sans", "labelFontSize": 9, "titleFont": "DejaVu Sans", "titleFontSize": 7, "titlePadding": 2, "tickColor": "#555555"}}
  },
  "layer": [
   {"data": {"name": "trans"}, "mark": {"type": "line", "color": "#3b3bb8", "strokeWidth": 1.4, "clip": true}},
   {"data": {"name": "lbl"}, "transform": [{"filter": "datum.p == 'e'"}], "mark": {"type": "text", "font": "Lato", "fontSize": 19, "color": "#111111"}, "encoding": {"text": {"field": "t"}}}
  ]
 },
 {
  "width": 359, "height": 140,
  "resolve": {"scale": {"x": "independent", "y": "independent"}},
  "layer": [
   {
    "encoding": {
     "x": {"field": "x", "type": "quantitative", "scale": {"domain": [1510, 1590], "nice": false, "zero": false}, "axis": {"values": [1510,1520,1530,1540,1550,1560,1570,1580,1590], "format": "d", "title": "Wavelength (nm)", "labelPadding": 8, "titlePadding": 0}},
     "y": {"field": "y", "type": "quantitative", "scale": {"domain": [-0.1, 1.1], "nice": false, "zero": false}, "axis": {"values": [0,0.2,0.4,0.6,0.8,1], "format": ".1~f", "title": null}}
    },
    "layer": [
     {"data": {"name": "fRec"}, "mark": {"type": "line", "strokeWidth": 2, "clip": true}, "encoding": {"color": {"datum": "Reconstruction", "scale": {"domain": ["Reconstruction", "Reference"], "range": ["#e8201e", "#2a78c8"]}, "legend": {"title": null, "orient": "none", "legendX": 260, "legendY": 6.7, "clipHeight": 14}}}},
     {"data": {"name": "fRef"}, "mark": {"type": "line", "strokeWidth": 2, "clip": true}, "encoding": {"color": {"datum": "Reference"}}},
     {"data": {"name": "lbl"}, "transform": [{"filter": "datum.p == 'f'"}], "mark": {"type": "text", "font": "Lato", "fontSize": 19, "color": "#111111"}, "encoding": {"text": {"field": "t"}}}
    ]
   },
   {
    "data": {"name": "lbl"}, "transform": [{"filter": "datum.p == 'f'"}], "mark": {"type": "point", "opacity": 0},
    "encoding": {
     "x": {"field": "x", "type": "quantitative", "scale": {"domain": [1510, 1590], "nice": false, "zero": false}, "axis": {"orient": "top", "values": [1510,1520,1530,1540,1550,1560,1570,1580,1590], "labels": false, "title": null}},
     "y": {"field": "y", "type": "quantitative", "scale": {"domain": [-0.1, 1.1], "nice": false, "zero": false}, "axis": {"orient": "right", "values": [0,0.2,0.4,0.6,0.8,1], "labels": false, "title": null}}
    }
   }
  ]
 }
]
}
